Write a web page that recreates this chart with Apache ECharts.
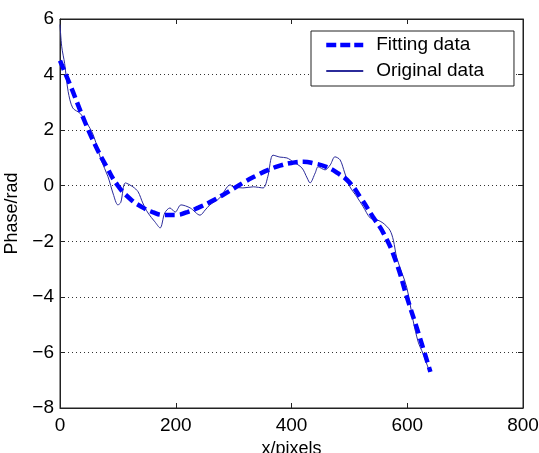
<!DOCTYPE html>
<html>
<head>
<meta charset="utf-8">
<script src="https://cdn.jsdelivr.net/npm/echarts@6/dist/echarts.min.js"></script>
<style>
html,body{margin:0;padding:0;background:#fff;}
#main{width:539px;height:453px;}
</style>
</head>
<body>
<div id="main"></div>
<script>
// 数据：拟合曲线和原始曲线 (x/pixels, phase/rad)
var fitX = [0,20,40,60,80,100,120,140,160,180,200,220,240,260,280,300,320,340,360,380,400,420,440,460,480,500,520,540,560,580,600,620,640]
var fitY = [4.5,3.5,2.45,1.5,0.7,0.0,-0.45,-0.75,-0.95,-1.05,-1.05,-0.95,-0.78,-0.58,-0.35,-0.1,0.15,0.37,0.57,0.72,0.82,0.86,0.8,0.68,0.45,0.12,-0.45,-1.1,-1.75,-2.7,-4.05,-5.35,-6.7]

var origX = [0,3,8,14,22,35,48,56,62,71,83,92,100,105,113,126,135,143,152,164,173,181,190,199,209,225,242,251,259,276,294,299,316,334,351,359,368,380,392,403,418,427,432,441,446,458,467,475,484,492,501,513,524,536,548,558,570,576,582,599,610,619,627,636,640]
var origY = [5.8,5.0,4.4,3.4,2.8,2.6,2.2,1.9,1.55,0.93,0.32,-0.3,-0.69,-0.6,0.1,-0.04,-0.22,-0.62,-0.98,-1.3,-1.52,-0.98,-0.8,-0.95,-0.69,-0.8,-1.06,-0.87,-0.69,-0.44,0.03,-0.04,-0.08,-0.04,-0.08,0.32,1.1,1.03,1.0,0.86,0.64,0.28,0.1,0.46,0.68,0.57,0.75,1.04,0.93,0.46,-0.04,-0.4,-0.76,-1.16,-1.23,-1.34,-1.6,-1.96,-2.6,-3.65,-4.84,-5.63,-6.03,-6.54,-6.7]

var seriesNames = ['Fitting data','Original data']

function pairs(xs, ys){
	var out = []
	for(var i=0;i<xs.length;i++){ out.push([xs[i], ys[i]]) }
	return out
}
function minus(v){ return String(v).replace('-', '\u2212') }

var font = 'Liberation Sans, Arial, sans-serif'
var axisColor = '#222'

var myChart = echarts.init(document.getElementById('main'))
var options = {
	backgroundColor: '#fff',
	animation: false,
	grid: {
		left: 60, right: 16, top: 19, bottom: 45,
		outerBoundsMode: 'none',
		containLabel: false,
		show: true, borderColor: axisColor, borderWidth: 1
	},
	legend: {
		orient: 'vertical',
		left: 311, top: 31,
		data: [
			{ name: seriesNames[0], lineStyle: { width: 4.5, type: [10, 4] } },
			{ name: seriesNames[1] }
		],
		backgroundColor: '#fff',
		borderColor: axisColor,
		borderWidth: 1,
		borderRadius: 0,
		padding: [4, 30, 5, 13],
		itemWidth: 37,
		itemHeight: 14,
		itemGap: 6,
		// 图例只画线，不画圆点
		itemStyle: { color: 'rgba(0,0,0,0)', borderWidth: 0, opacity: 0 },
		textStyle: { fontFamily: font, fontSize: 19, color: '#000', lineHeight: 20, padding: [0,0,0,8] }
	},
	xAxis: [{
		type: 'value', min: 0, max: 800, interval: 200,
		name: 'x/pixels', nameLocation: 'middle', nameGap: 27,
		nameTextStyle: { fontFamily: font, fontSize: 18, color: '#000' },
		axisLine: { show: true, onZero: false, lineStyle: { color: axisColor } },
		axisTick: { show: true, inside: true, length: 5, lineStyle: { color: axisColor } },
		axisLabel: { fontFamily: font, fontSize: 19, color: '#000', margin: 8 },
		splitLine: { show: false }
	}, {
		type: 'value', min: 0, max: 800, interval: 200, position: 'top',
		axisLine: { show: true, onZero: false, lineStyle: { color: axisColor } },
		axisTick: { show: true, inside: true, length: 5, lineStyle: { color: axisColor } },
		axisLabel: { show: false },
		splitLine: { show: false }
	}],
	yAxis: [{
		type: 'value', min: -8, max: 6, interval: 2,
		name: 'Phase/rad', nameLocation: 'middle', nameGap: 30, nameRotate: 90,
		nameTextStyle: { fontFamily: font, fontSize: 18, color: '#000' },
		axisLine: { show: true, onZero: false, lineStyle: { color: axisColor } },
		axisTick: { show: true, inside: true, length: 5, lineStyle: { color: axisColor } },
		axisLabel: { fontFamily: font, fontSize: 19, color: '#000', margin: 6, formatter: minus },
		splitLine: { show: true, lineStyle: { color: '#333', type: [1, 3], width: 1 } }
	}, {
		type: 'value', min: -8, max: 6, interval: 2, position: 'right',
		axisLine: { show: true, onZero: false, lineStyle: { color: axisColor } },
		axisTick: { show: true, inside: true, length: 5, lineStyle: { color: axisColor } },
		axisLabel: { show: false },
		splitLine: { show: false }
	}],
	series: [
		{
			name: seriesNames[1],
			type: 'line',
			data: pairs(origX, origY),
			symbol: 'none',
			smooth: 0.3,
			z: 2,
			lineStyle: { color: '#2b2b9a', width: 1 },
			itemStyle: { color: '#2b2b9a' }
		},
		{
			name: seriesNames[0],
			type: 'line',
			data: pairs(fitX, fitY),
			symbol: 'none',
			smooth: true,
			z: 3,
			lineStyle: { color: '#0000ff', width: 4.5, type: [10, 5] },
			itemStyle: { color: '#0000ff' }
		}
	]
}
myChart.setOption(options)
</script>
</body>
</html>
